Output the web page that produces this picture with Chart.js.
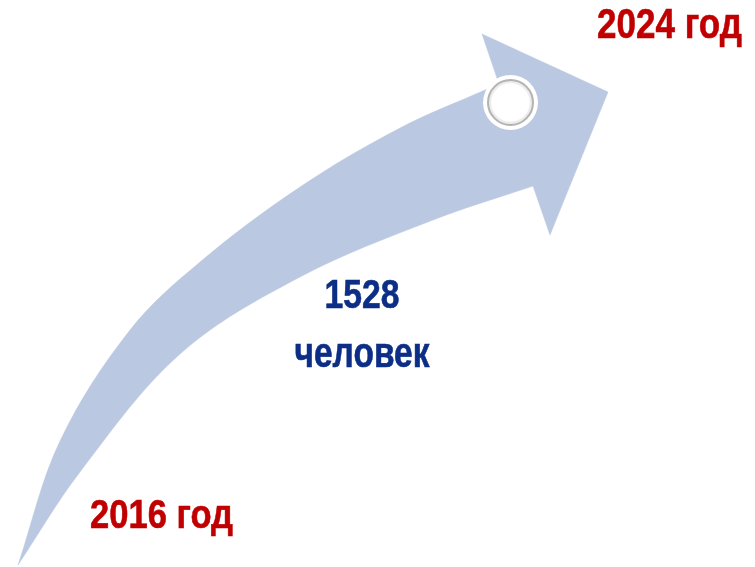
<!DOCTYPE html>
<html>
<head>
<meta charset="utf-8">
<script src="https://cdn.jsdelivr.net/npm/chart.js@4.4.1/dist/chart.umd.min.js"></script>
<style>
  html, body { margin: 0; padding: 0; background: #fff; }
  canvas { display: block; }
</style>
</head>
<body>
<canvas id="arrowChart" width="755" height="567"></canvas>
<script>
// upper edge of the arrow body, bottom tip -> head
const outerX = [18, 60, 130, 200, 300, 400, 485, 499];
const outerY = [565, 441, 330, 262, 187, 128, 90, 84];
// arrow head: back corner, tip, lower corner
const headX = [482, 608, 550];
const headY = [34, 92, 235];
// lower edge of the arrow body, head -> bottom tip
const innerX = [533, 433, 300, 180, 80, 18];
const innerY = [186, 220, 277, 354, 472, 565];
// marker on the arrow
const markerX = [510.5];
const markerY = [102.5];
// captions
const captions = ["2024 год", "1528", "человек", "2016 год"];

const ARROW = "#bac8e1";
const RED = "#c00000";
const BLUE = "#0d2e86";
const FONT = '"Liberation Sans Narrow", "Arial Narrow", "Liberation Sans", Arial, sans-serif';

// closed outline; corners are doubled so the curve tension keeps them sharp
function buildOutline() {
  const pts = [];
  const sharp = (x, y) => { pts.push({ x, y }); pts.push({ x, y }); };
  outerX.forEach((x, i) => {
    if (i === 0 || i === outerX.length - 1) sharp(x, outerY[i]);
    else pts.push({ x, y: outerY[i] });
  });
  headX.forEach((x, i) => sharp(x, headY[i]));
  innerX.forEach((x, i) => {
    if (i === 0 || i === innerX.length - 1) sharp(x, innerY[i]);
    else pts.push({ x, y: innerY[i] });
  });
  return pts;
}

const markerPts = markerX.map((x, i) => ({ x, y: markerY[i] }));

// caption layout: anchor, baseline, font size, fitted width
const captionStyle = [
  { x: 597, y: 38, size: 42, width: 145, align: "left", color: RED },
  { x: 362, y: 308, size: 40, width: 75, align: "center", color: BLUE },
  { x: 362, y: 367, size: 42, width: 135, align: "center", color: BLUE },
  { x: 90, y: 528, size: 40, width: 143, align: "left", color: RED },
];

const captionPlugin = {
  id: "captions",
  afterDraw(chart) {
    const ctx = chart.ctx;
    const sx = chart.scales.x;
    const sy = chart.scales.y;
    captions.forEach((text, i) => {
      const st = captionStyle[i];
      ctx.save();
      ctx.font = "bold " + st.size + "px " + FONT;
      ctx.fillStyle = st.color;
      ctx.textBaseline = "alphabetic";
      const w = ctx.measureText(text).width;
      const k = st.width / w;
      const px = sx.getPixelForValue(st.x);
      const py = sy.getPixelForValue(st.y);
      const left = st.align === "center" ? px - st.width / 2 : px;
      ctx.translate(left, py);
      ctx.scale(k, 1);
      ctx.textAlign = "left";
      ctx.fillText(text, 0, 0);
      // slight second pass to thicken the strokes like the original
      ctx.strokeStyle = st.color;
      ctx.lineWidth = 0.6;
      ctx.strokeText(text, 0, 0);
      ctx.restore();
    });
  },
};

new Chart(document.getElementById("arrowChart"), {
  type: "scatter",
  data: {
    datasets: [
      {
        // inner shading of the ring
        data: markerPts,
        pointRadius: 20.5,
        pointBackgroundColor: "rgba(255,255,255,0)",
        pointBorderColor: "rgba(0,0,0,0.07)",
        pointBorderWidth: 2.5,
      },
      {
        data: markerPts,
        pointRadius: 22.5,
        pointBackgroundColor: "#ffffff",
        pointBorderColor: "#b4b4b4",
        pointBorderWidth: 2,
      },
      {
        data: markerPts,
        pointRadius: 27.5,
        pointBackgroundColor: "#ffffff",
        pointBorderWidth: 0,
      },
      {
        type: "line",
        data: buildOutline(),
        showLine: true,
        fill: "shape",
        backgroundColor: ARROW,
        borderColor: ARROW,
        borderWidth: 0.5,
        tension: 0.35,
        pointRadius: 0,
      },
    ],
  },
  options: {
    responsive: false,
    animation: false,
    events: [],
    layout: { padding: 0, autoPadding: false },
    plugins: {
      legend: { display: false },
      tooltip: { enabled: false },
    },
    scales: {
      x: { type: "linear", display: false, min: 0, max: 755 },
      y: { type: "linear", display: false, min: 0, max: 567, reverse: true },
    },
  },
  plugins: [captionPlugin],
});
</script>
</body>
</html>
